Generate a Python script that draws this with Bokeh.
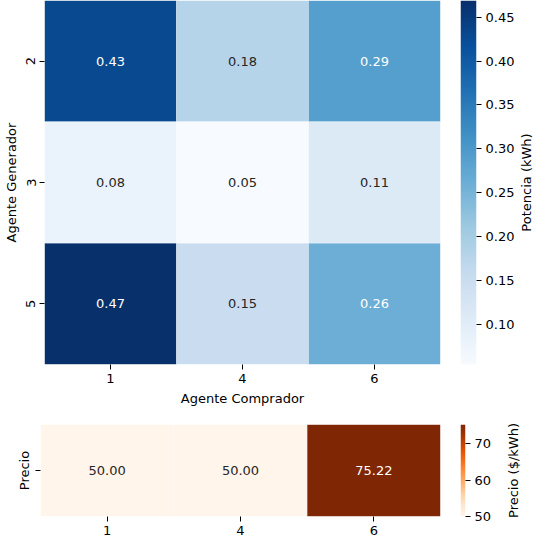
import numpy as np
from bokeh.plotting import figure
from bokeh.models import (FactorRange, Range1d, LinearColorMapper, ColumnDataSource,
                          SingleIntervalTicker, NumeralTickFormatter, FixedTicker)
from bokeh.layouts import column, row
from bokeh.palettes import Blues256, Oranges256
from bokeh.core.properties import value
from bokeh.embed import file_html
from bokeh.resources import INLINE

# ---------------- data ----------------
buyers = ["1", "4", "6"]
generators = ["2", "3", "5"]
power = [
    [0.43, 0.18, 0.29],    # generator 2
    [0.08, 0.054, 0.11],   # generator 3
    [0.469, 0.15, 0.26],   # generator 5
]
price_label = ["Precio"]
prices = [50.00, 50.00, 75.22]

FONT = "DejaVu Sans"
FS = "13px"
TXT = "#000000"


def lum_text_color(v, lo, hi, pal):
    idx = int(round((v - lo) / (hi - lo) * (len(pal) - 1)))
    idx = max(0, min(len(pal) - 1, idx))
    h = pal[idx].lstrip("#")
    rgb = [int(h[i:i + 2], 16) / 255 for i in (0, 2, 4)]
    lin = [c / 12.92 if c <= 0.03928 else ((c + 0.055) / 1.055) ** 2.4 for c in rgb]
    L = 0.2126 * lin[0] + 0.7152 * lin[1] + 0.0722 * lin[2]
    return "#262626" if L > 0.408 else "#ffffff"


def style_axes(p):
    p.outline_line_color = None
    p.grid.grid_line_color = None
    for ax in p.axis:
        ax.axis_line_color = None
        ax.minor_tick_line_color = None
        ax.major_tick_out = 5
        ax.major_tick_in = 0
        ax.major_tick_line_color = TXT
        ax.major_label_text_font = FONT
        ax.major_label_text_font_size = FS
        ax.major_label_text_color = TXT
        ax.axis_label_text_font = FONT
        ax.axis_label_text_font_size = FS
        ax.axis_label_text_font_style = "normal"
        ax.axis_label_text_color = TXT
        ax.major_label_standoff = 4
        ax.axis_label_standoff = 5


def label_strip(text, width, height, top, bottom):
    """Narrow figure whose left axis carries only a rotated (bottom-to-top) label."""
    f = figure(width=width, height=height, x_range=Range1d(0, 1), y_range=Range1d(0, 1),
               output_backend="svg", toolbar_location=None, x_axis_location=None,
               min_border_left=width - 2, min_border_right=0,
               min_border_top=top, min_border_bottom=bottom)
    style_axes(f)
    ax = f.yaxis[0]
    ax.ticker = FixedTicker(ticks=[])
    ax.major_tick_out = 0
    ax.axis_label = text
    ax.axis_label_standoff = 2
    return f


blues = list(Blues256[::-1])
oranges = list(Oranges256[::-1])

# ---------------- top heatmap ----------------
vals = np.array(power)
plo, phi = float(vals.min()), float(vals.max())
pmap = LinearColorMapper(palette=blues, low=plo, high=phi)

xs, ys, vs, labels, tcols = [], [], [], [], []
for i, g in enumerate(generators):
    for j, b in enumerate(buyers):
        v = power[i][j]
        xs.append(b); ys.append(g); vs.append(v)
        labels.append(f"{v:.2f}")
        tcols.append(lum_text_color(v, plo, phi, blues))
src1 = ColumnDataSource(dict(x=xs, y=ys, v=vs, label=labels, tc=tcols))

H1, W1 = 420, 460
T1, B1 = 0, 56
p1 = figure(width=W1, height=H1, x_range=FactorRange(*buyers),
            y_range=FactorRange(*generators[::-1]), output_backend="svg",
            toolbar_location=None, min_border_left=40, min_border_right=20,
            min_border_top=T1, min_border_bottom=B1)
p1.rect(x="x", y="y", width=1, height=1, source=src1,
        fill_color={"field": "v", "transform": pmap},
        line_color="white", line_width=0.5, line_alpha=0.5)
p1.text(x="x", y="y", text="label", source=src1, text_color="tc",
        text_align="center", text_baseline="middle",
        text_font=value(FONT), text_font_size=FS)
p1.xaxis.axis_label = "Agente Comprador"
p1.yaxis.axis_label = "Agente Generador"
style_axes(p1)
p1.yaxis.major_label_orientation = "vertical"
p1.x_range.range_padding = 0
p1.y_range.range_padding = 0

# colorbar for top
c1 = figure(width=57, height=H1, x_range=Range1d(0, 1), y_range=Range1d(plo, phi),
            output_backend="svg", toolbar_location=None, x_axis_location=None,
            y_axis_location="right", min_border_left=0, min_border_right=39,
            min_border_top=T1, min_border_bottom=B1)
c1.image(image=[np.linspace(plo, phi, 256).reshape(-1, 1)], x=0, y=plo, dw=1,
         dh=phi - plo, color_mapper=pmap)
c1.yaxis.ticker = SingleIntervalTicker(interval=0.05, num_minor_ticks=0)
c1.yaxis.formatter = NumeralTickFormatter(format="0.00")
style_axes(c1)
l1 = label_strip("Potencia (kWh)", 18, H1, T1, B1)

# ---------------- bottom heatmap ----------------
prlo, prhi = float(min(prices)), float(max(prices))
omap = LinearColorMapper(palette=oranges, low=prlo, high=prhi)
src2 = ColumnDataSource(dict(
    x=buyers, y=price_label * len(buyers), v=prices,
    label=[f"{v:.2f}" for v in prices],
    tc=[lum_text_color(v, prlo, prhi, oranges) for v in prices]))

H2 = 119
T2, B2 = 4, 23
p2 = figure(width=W1, height=H2, x_range=FactorRange(*buyers),
            y_range=FactorRange(*price_label), output_backend="svg",
            toolbar_location=None, min_border_left=40, min_border_right=20,
            min_border_top=T2, min_border_bottom=B2)
p2.rect(x="x", y="y", width=1, height=1, source=src2,
        fill_color={"field": "v", "transform": omap},
        line_color="white", line_width=0.5, line_alpha=0.5)
p2.text(x="x", y="y", text="label", source=src2, text_color="tc",
        text_align="center", text_baseline="middle",
        text_font=value(FONT), text_font_size=FS)
style_axes(p2)
p2.yaxis.major_label_orientation = "vertical"

c2 = figure(width=44, height=H2, x_range=Range1d(0, 1), y_range=Range1d(prlo, prhi),
            output_backend="svg", toolbar_location=None, x_axis_location=None,
            y_axis_location="right", min_border_left=0, min_border_right=39,
            min_border_top=T2, min_border_bottom=B2)
c2.image(image=[np.linspace(prlo, prhi, 256).reshape(-1, 1)], x=0, y=prlo, dw=1,
         dh=prhi - prlo, color_mapper=omap)
c2.yaxis.ticker = SingleIntervalTicker(interval=10, num_minor_ticks=0)
style_axes(c2)
l2 = label_strip("Precio ($/kWh)", 18, H2, T2, B2)

layout = column(row(p1, c1, l1), row(p2, c2, l2))
open("out.html", "w").write(file_html(layout, INLINE))
